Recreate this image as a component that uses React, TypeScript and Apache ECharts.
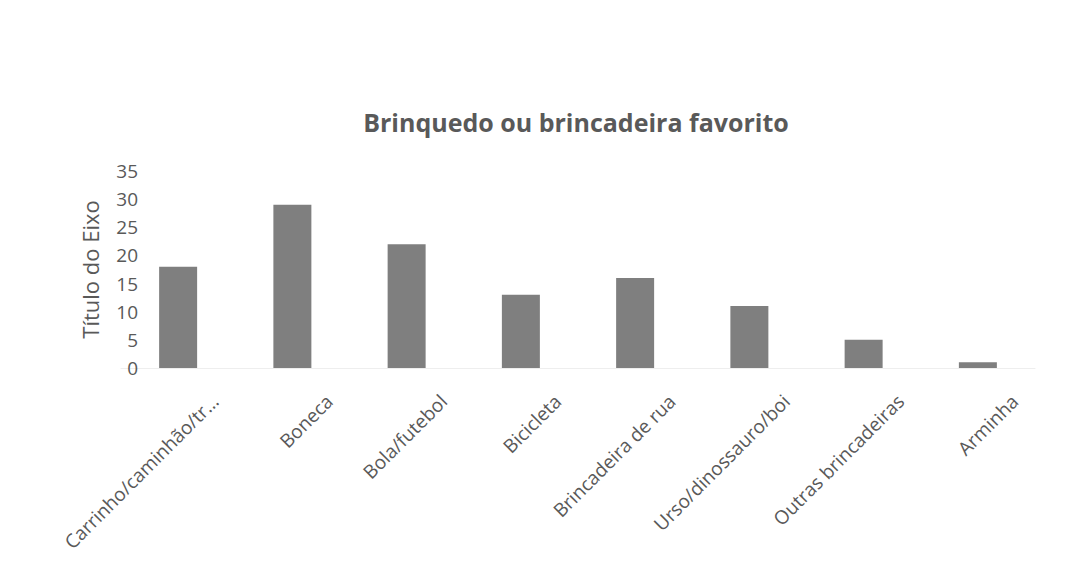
import React, { useEffect, useRef } from "react";
import * as echarts from "echarts";

const categories = [
  "Carrinho/caminhão/tr...",
  "Boneca",
  "Bola/futebol",
  "Bicicleta",
  "Brincadeira de rua",
  "Urso/dinossauro/boi",
  "Outras brincadeiras",
  "Arminha",
];
const values = [18, 29, 22, 13, 16, 11, 5, 1];
const titleText = "Brinquedo ou brincadeira favorito";
const yAxisTitle = "Título do Eixo";

export default function App() {
  const ref = useRef<HTMLDivElement>(null);
  useEffect(() => {
    if (!ref.current) return;
    const chart = echarts.init(ref.current, null, { renderer: "svg" });
    const font = "'Open Sans', 'Noto Sans', sans-serif";
    const grey = "#595959";
    chart.setOption({
      animation: false,
      backgroundColor: "#ffffff",
      title: {
        text: titleText,
        left: 571,
        top: 104,
        textAlign: "center",
        textStyle: { fontFamily: font, fontSize: 25, fontWeight: "bold", color: grey },
      },
      grid: [
        { left: 121, right: 50, top: 171, bottom: 198 },
        { left: 158, right: 13, top: 171, bottom: 198 },
      ],
      xAxis: [
        {
          type: "category",
          gridIndex: 0,
          data: categories,
          axisLine: { show: true, lineStyle: { color: "#eeeeee" } },
          axisTick: { show: false },
          axisLabel: { show: false },
        },
        {
          type: "category",
          gridIndex: 1,
          data: categories,
          axisLine: { show: false },
          axisTick: { show: false },
          axisLabel: {
            rotate: 45,
            interval: 0,
            margin: 30,
            fontFamily: font,
            fontSize: 19,
            color: grey,
          },
        },
      ],
      yAxis: [
        {
          type: "value",
          gridIndex: 0,
          min: 0,
          max: 35,
          interval: 5,
          offset: -17,
          name: yAxisTitle,
          nameLocation: "middle",
          nameRotate: 90,
          nameGap: 37,
          nameTextStyle: { fontFamily: font, fontSize: 22, color: grey },
          splitLine: { show: false },
          axisLine: { show: false },
          axisTick: { show: false },
          axisLabel: { fontFamily: font, fontSize: 19, color: grey, margin: 0 },
        },
        {
          type: "value",
          gridIndex: 1,
          min: 0,
          max: 35,
          interval: 5,
          show: false,
        },
      ],
      series: [
        {
          type: "bar",
          xAxisIndex: 0,
          yAxisIndex: 0,
          data: values,
          barWidth: 38,
          itemStyle: { color: "#7f7f7f" },
        },
      ],
    });
    return () => chart.dispose();
  }, []);
  return (
    <div
      ref={ref}
      style={{ position: "fixed", left: 0, top: 0, width: 1085, height: 566 }}
    />
  );
}
